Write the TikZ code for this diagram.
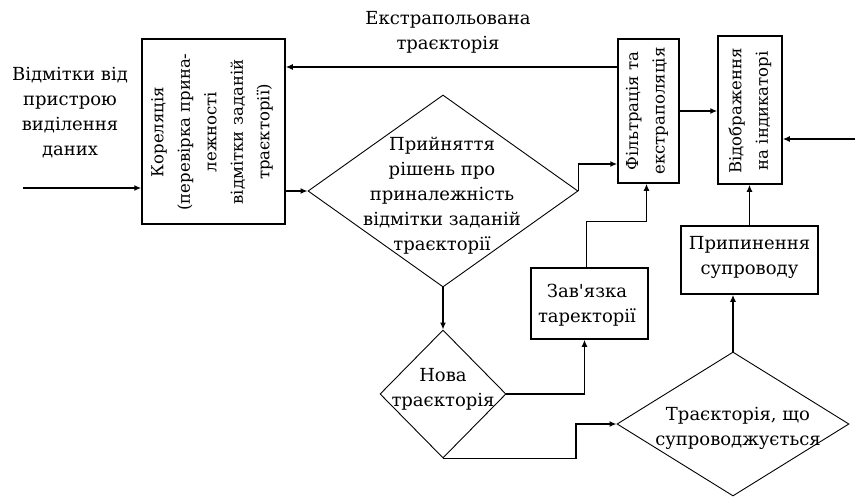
\documentclass[tikz,border=0pt]{standalone}
\usepackage{fontspec}
\setmainfont{DejaVu Serif}
\usetikzlibrary{shapes.geometric,arrows.meta}

\tikzset{
  box/.style={draw, line width=1.5pt, inner sep=0pt},
  choice/.style={draw, diamond, line width=0.9pt, inner sep=0pt},
  txt/.style={align=center, font=\fontsize{18}{25}\selectfont, inner sep=0pt},
  vtxt/.style={txt, rotate=90, font=\fontsize{16.5}{26.5}\selectfont},
  arr/.style={line width=1.5pt, -{Latex[length=7pt,width=6pt]}}
}

\begin{document}
\begin{tikzpicture}[x=1pt,y=-1pt]
  \useasboundingbox (0,0) rectangle (855,498);
  % Blocks
  \node[box, minimum width=143pt, minimum height=185pt] (kor) at (213.5,131.5) {};
  \node[box, minimum width=61pt, minimum height=144pt] (filt) at (648.5,111) {};
  \node[box, minimum width=64pt, minimum height=148pt] (disp) at (750,110) {};
  \node[box, minimum width=137pt, minimum height=68pt] (prip) at (749.5,260) {};
  \node[box, minimum width=117pt, minimum height=71pt] (zav) at (589.5,303.5) {};
  % Decisions
  \node[choice, minimum width=270pt, minimum height=192pt] (prin) at (443,191) {};
  \node[choice, minimum width=126pt, minimum height=128pt] (nova) at (443,394) {};
  \node[choice, minimum width=232pt, minimum height=144pt] (traj) at (733,424) {};
  % Labels
  \node[txt] (src) at (70,113) {Відмітки від\\пристрою\\виділення\\даних};
  \node[txt] (extr) at (448,32) {Екстрапольована\\траєкторія};
  \node[vtxt] (kortxt) at (212,132) {Кореляція\\(перевірка прина-\\лежності\\відмітки заданій\\траєкторії)};
  \node[vtxt] (filttxt) at (647,111) {Фільтрація та\\екстраполяція};
  \node[vtxt] (disptxt) at (750,111) {Відображення\\на індикаторі};
  \node[txt] (priptxt) at (749.5,257) {Припинення\\супроводу};
  \node[txt] (zavtxt) at (587,305) {Зав\textquotesingle язка\\таректорії};
  \node[txt] (printxt) at (442,196) {Прийняття\\рішень про\\приналежність\\відмітки заданій\\траєкторії};
  \node[txt] (novatxt) at (443,389) {Нова\\траєкторія};
  \node[txt] (trajtxt) at (738,428) {Траєкторія, що\\супроводжується};
  % Connectors
  \coordinate (in) at (23,188);
  \coordinate (ext) at (855,139);
  \draw[arr] (in) -- (in -| kor.west);
  \draw[arr] ([yshift=44pt]filt.west) -- ([yshift=44pt]filt.west -| kor.east);
  \draw[arr] (kor.east |- prin.west) -- (prin.west);
  \draw[arr] (prin.east) |- ([yshift=-53pt]filt.west);
  \draw[arr] (filt.east) -- (filt.east -| disp.west);
  \draw[arr] (ext) -- (ext -| disp.east);
  \draw[arr] (prip.north) -- (prip.north |- disp.south);
  \draw[arr] (prin.south) -- (nova.north);
  \draw[arr] (nova.east) -| ([xshift=-5pt]zav.south);
  \draw[arr] ([xshift=-3pt]zav.north) -- ++(0,-46) -| ([xshift=-2pt]filt.south);
  \draw[arr] (nova.south) -- ++(133,0) |- (traj.west);
  \draw[arr] (traj.north) -- (traj.north |- prip.south);
\end{tikzpicture}
\end{document}
